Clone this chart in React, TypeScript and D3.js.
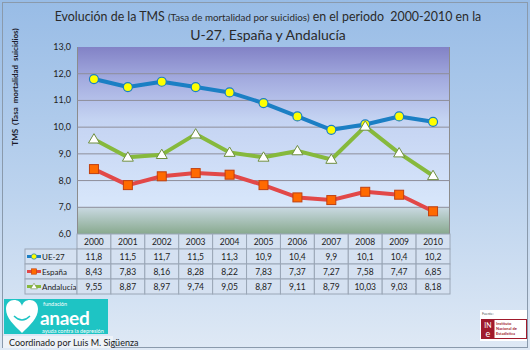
import React from "react";
import * as d3 from "d3";

const years = ["2000", "2001", "2002", "2003", "2004", "2005", "2006", "2007", "2008", "2009", "2010"];
const ue27 = [11.8, 11.5, 11.7, 11.5, 11.3, 10.9, 10.4, 9.9, 10.1, 10.4, 10.2];
const espana = [8.43, 7.83, 8.16, 8.28, 8.22, 7.83, 7.37, 7.27, 7.58, 7.47, 6.85];
const andalucia = [9.55, 8.87, 8.97, 9.74, 9.05, 8.87, 9.11, 8.79, 10.03, 9.03, 8.18];
const yTicks = [6, 7, 8, 9, 10, 11, 12, 13];

const W = 530;
const H = 350;
const plot = { left: 77, right: 450, top: 47, bottom: 234 };
const rowH = 15;
const font = "Lato, 'Open Sans', sans-serif";

const fmt1 = (v: number) => v.toFixed(1).replace(".", ",");
const fmt2 = (v: number) => v.toFixed(2).replace(".", ",");

const series = [
  { name: "UE-27", values: ue27, color: "#1b7fc4", marker: "circle", fmt: fmt1 },
  { name: "España", values: espana, color: "#e24848", marker: "square", fmt: fmt2 },
  { name: "Andalucía", values: andalucia, color: "#86b93c", marker: "triangle", fmt: fmt2 },
];

function Marker({ type, x, y }: { type: string; x: number; y: number }) {
  if (type === "circle")
    return <circle cx={x} cy={y} r={4.5} fill="#ffff00" stroke="#1b7fc4" strokeWidth={1.2} />;
  if (type === "square")
    return <rect x={x - 4.5} y={y - 4.5} width={9} height={9} fill="#ff6a00" stroke="#c04010" strokeWidth={1} />;
  const s = 5.5;
  return (
    <path
      d={`M${x},${y - s}L${x + s},${y + s * 0.7}L${x - s},${y + s * 0.7}Z`}
      fill="#ffffff"
      stroke="#6f8f40"
      strokeWidth={1}
    />
  );
}

export default function App() {
  const x = d3.scaleBand<string>().domain(years).range([plot.left, plot.right]);
  const cx = (yr: string) => (x(yr) as number) + x.bandwidth() / 2;
  const y = d3.scaleLinear().domain([6, 13]).range([plot.bottom, plot.top]);
  const line = d3
    .line<number>()
    .x((_, i) => cx(years[i]))
    .y((d) => y(d));

  const tableTop = plot.bottom;
  const legendLeft = 25;

  return (
    <svg
      width={W}
      height={H}
      style={{ position: "absolute", left: 0, top: 0, display: "block" }}
      fontFamily={font}
    >
      <defs>
        <linearGradient id="bg" x1="0" x2="0" y1="0" y2="1">
          <stop offset="0%" stopColor="#98bce6" />
          <stop offset="55%" stopColor="#bcd3ee" />
          <stop offset="100%" stopColor="#dfe9f5" />
        </linearGradient>
        <linearGradient id="plotbg" x1="0" x2="0" y1="0" y2="1">
          <stop offset="0%" stopColor="#8282c6" />
          <stop offset="20%" stopColor="#a3abdf" />
          <stop offset="45%" stopColor="#c4d3f2" />
          <stop offset="100%" stopColor="#d8e7fb" />
        </linearGradient>
        <linearGradient id="greenbg" x1="0" x2="0" y1="0" y2="1">
          <stop offset="0%" stopColor="#c9d9e2" />
          <stop offset="100%" stopColor="#88a98e" />
        </linearGradient>
      </defs>

      <rect x={0} y={0} width={W} height={H} fill="url(#bg)" />
      <rect x={2.5} y={2.5} width={W - 5} height={H - 5} fill="none" stroke="#8a9aac" strokeWidth={1} />

      {/* title */}
      <text x={268} y={21} textAnchor="middle" fill="#2a2a2a" fontSize={12.4} style={{ whiteSpace: "pre" }}>
        <tspan>Evolución de la TMS </tspan>
        <tspan fontSize={9.8}>(Tasa de mortalidad por suicidios)</tspan>
        <tspan>{" en el periodo  2000-2010 en la"}</tspan>
      </text>
      <text x={268} y={40} textAnchor="middle" fill="#2a2a2a" fontSize={14}>
        U-27, España y Andalucía
      </text>

      {/* y axis title */}
      <text
        transform={`translate(18,87) rotate(-90)`}
        textAnchor="middle"
        fontSize={8}
        fontWeight="bold"
        fill="#1a1a2a"
        style={{ whiteSpace: "pre" }}
      >
        {"TMS  (Tasa  mortalidad  suicidios)"}
      </text>

      {/* plot background */}
      <rect x={plot.left} y={y(13)} width={plot.right - plot.left} height={y(7) - y(13)} fill="url(#plotbg)" />
      <rect x={plot.left} y={y(7)} width={plot.right - plot.left} height={y(6) - y(7)} fill="url(#greenbg)" />
      <line x1={plot.left + 0.5} x2={plot.left + 0.5} y1={plot.top} y2={plot.bottom} stroke="#8c8c8c" />
      <line x1={plot.right - 0.5} x2={plot.right - 0.5} y1={plot.top} y2={plot.bottom} stroke="#8c8c8c" />

      {yTicks.map((t) => (
        <g key={t}>
          {t > 6 && t < 13 && (
            <line x1={plot.left} x2={plot.right} y1={y(t)} y2={y(t)} stroke="#8e8e9a" strokeWidth={1} />
          )}
          <text x={71} y={y(t) + 3} textAnchor="end" fontSize={9} fill="#222">
            {fmt1(t)}
          </text>
        </g>
      ))}

      {/* lines */}
      {series.map((s) => (
        <path key={s.name} d={line(s.values) as string} fill="none" stroke={s.color} strokeWidth={4} strokeLinejoin="round" />
      ))}
      {series.map((s) => (
        <g key={s.name + "m"}>
          {s.values.map((v, i) => (
            <Marker key={i} type={s.marker} x={cx(years[i])} y={y(v)} />
          ))}
        </g>
      ))}

      {/* data table */}
      <g fontSize={8.5} fill="#222">
        {years.map((yr) => (
          <g key={yr}>
            <rect x={x(yr)} y={tableTop} width={x.bandwidth()} height={rowH} fill="#d5e1f1" stroke="#9aa6b6" />
            <text x={cx(yr)} y={tableTop + 11} textAnchor="middle">
              {yr}
            </text>
          </g>
        ))}
        {series.map((s, r) => {
          const ry = tableTop + rowH * (r + 1);
          return (
            <g key={s.name + "row"}>
              <rect x={legendLeft} y={ry} width={plot.left - legendLeft} height={rowH} fill="#d5e1f1" stroke="#9aa6b6" />
              <line x1={legendLeft + 2} x2={legendLeft + 16} y1={ry + 7.5} y2={ry + 7.5} stroke={s.color} strokeWidth={3} />
              <g transform={`translate(${legendLeft + 9},${ry + 7.5}) scale(0.6) translate(${-(legendLeft + 9)},${-(ry + 7.5)})`}>
                <Marker type={s.marker} x={legendLeft + 9} y={ry + 7.5} />
              </g>
              <text x={legendLeft + 17} y={ry + 10.5} fontSize={8}>
                {s.name}
              </text>
              {years.map((yr, i) => (
                <g key={yr}>
                  <rect x={x(yr)} y={ry} width={x.bandwidth()} height={rowH} fill="#d5e1f1" stroke="#9aa6b6" />
                  <text x={cx(yr)} y={ry + 11} textAnchor="middle">
                    {s.fmt(s.values[i])}
                  </text>
                </g>
              ))}
            </g>
          );
        })}
      </g>

      {/* anaed logo */}
      <rect x={3} y={336} width={110} height={12} fill="#eef2f8" />
      <rect x={4} y={299} width={104} height={35} fill="#1ec4c4" />
      <path
        d="M22,333 C14,325 6,318 6,309 C6,303 10,300 14,300 C18,300 21,302 22,306 C23,302 26,300 30,300 C34,300 38,303 38,309 C38,318 30,325 22,333 Z"
        fill="#ffffff"
      />
      <path d="M14,316 Q22,324 30,316" fill="none" stroke="#1ec4c4" strokeWidth={1.5} />
      <text x={43} y={305.5} fontSize={5.5} fill="#ffffff">fundación</text>
      <text x={40} y={325} fontSize={19} fontWeight="bold" fill="#ffffff" letterSpacing={-0.3}>anaed</text>
      <text x={42} y={333} fontSize={5.5} fill="#ffffff">ayuda contra la depresión</text>
      <text x={9} y={346} fontSize={9} fill="#1a1a1a">Coordinado por Luis M. Sigüenza</text>

      {/* INE logo */}
      <rect x={480} y={310} width={47} height={31} fill="#ffffff" />
      <text x={482} y={315} fontSize={3.5} fill="#555">Fuente:</text>
      <rect x={481.5} y={319.5} width={45} height={19} fill="#ffffff" stroke="#a01a2c" />
      <rect x={481.5} y={319.5} width={13} height={19} fill="#a01a2c" />
      <text x={488} y={328} textAnchor="middle" fontSize={7} fill="#fff">IN</text>
      <text x={488} y={337} textAnchor="middle" fontSize={9} fill="#fff">e</text>
      <g fontSize={4} fill="#a01a2c" fontWeight="bold">
        <text x={496} y={325}>Instituto</text>
        <text x={496} y={330}>Nacional de</text>
        <text x={496} y={335}>Estadística</text>
      </g>
    </svg>
  );
}
